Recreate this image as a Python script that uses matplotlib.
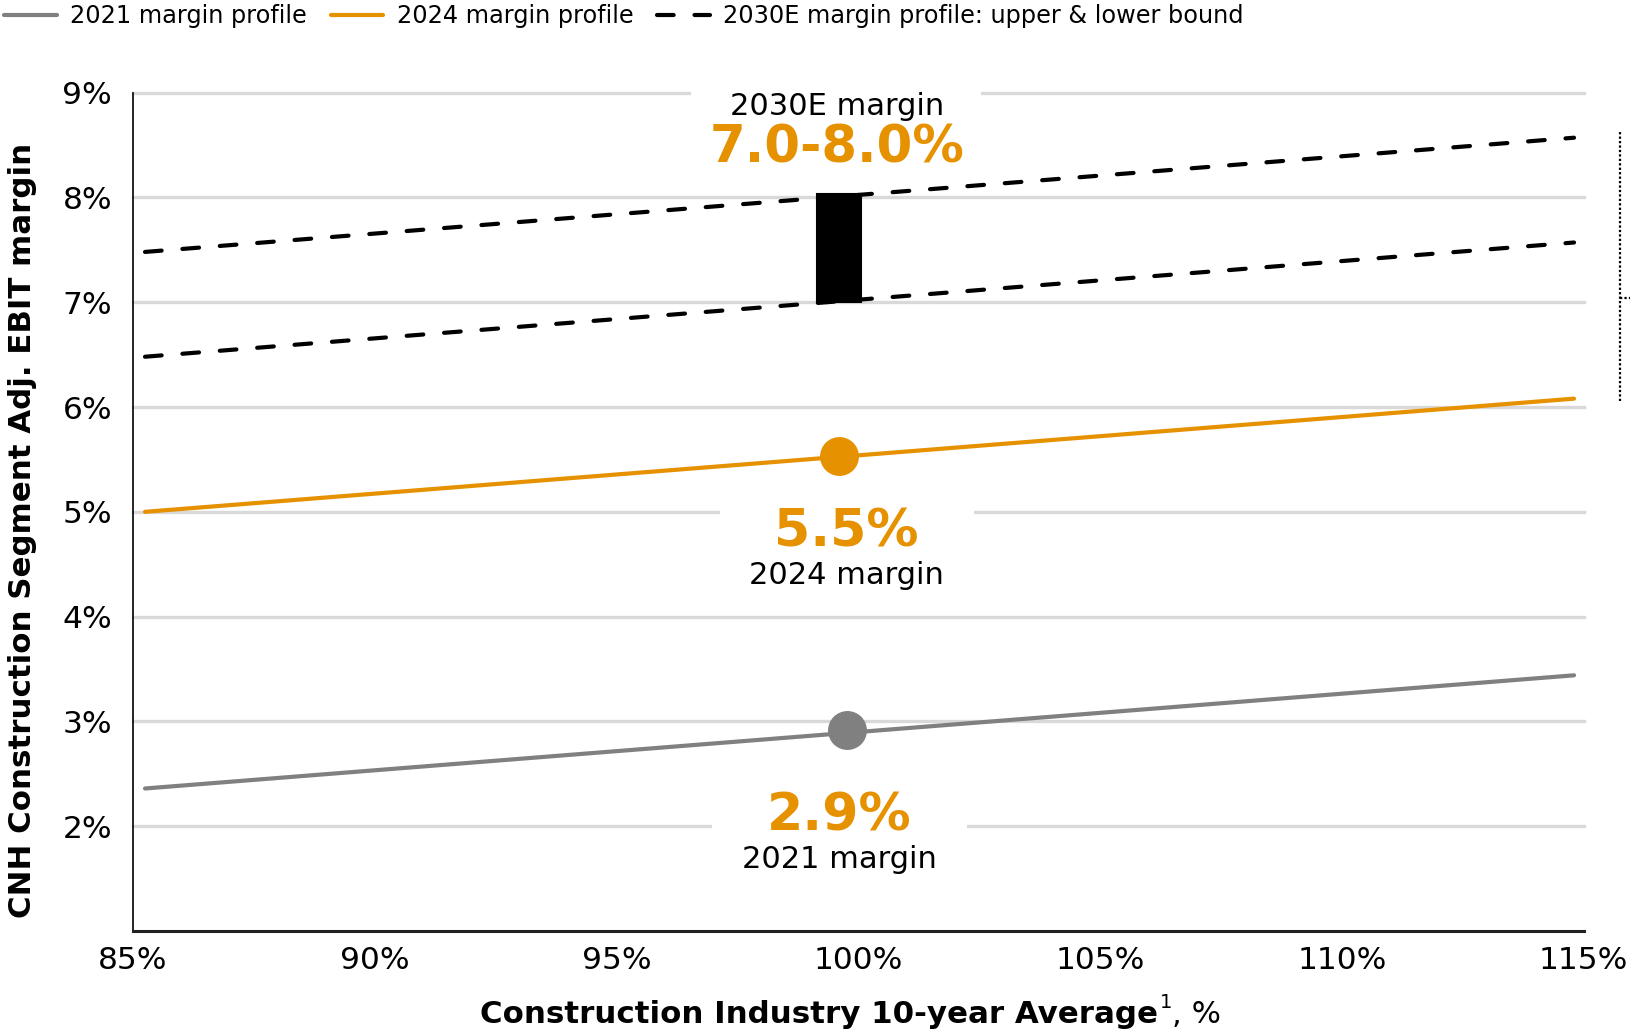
import matplotlib
matplotlib.use('Agg')
import matplotlib.pyplot as plt
import matplotlib.patches as patches

plt.rcParams['font.family'] = ['DejaVu Sans']

# data
x_ends = [85.25, 114.8]
margin_2021 = [2.36, 3.44]
margin_2024 = [5.0, 6.08]
upper_2030 = [7.48, 8.57]
lower_2030 = [6.48, 7.57]

point_2021 = (99.77, 2.92)
point_2024 = (99.6, 5.53)
range_2030 = (99.6, 7.0, 8.03)  # x, low, high

x_ticks = [85, 90, 95, 100, 105, 110, 115]
y_ticks = [2, 3, 4, 5, 6, 7, 8, 9]

ORANGE = '#E69100'
GRAY = '#808080'
GRID = '#D9D9D9'

fig = plt.figure(figsize=(16.31, 10.34), dpi=100)
ax = fig.add_axes([0.0815, 0.0996, 0.8895, 0.8108])

ax.set_xlim(85, 115)
ax.set_ylim(1, 9)
ax.set_xticks(x_ticks)
ax.set_xticklabels([f'{v}%' for v in x_ticks])
ax.set_yticks(y_ticks)
ax.set_yticklabels([f'{v}%' for v in y_ticks])
ax.tick_params(axis='both', length=0, labelsize=22.5)
ax.tick_params(axis='y', pad=15)
ax.tick_params(axis='x', pad=11)

ax.set_axisbelow(True)
ax.grid(axis='y', color=GRID, linewidth=2.4)
for gl in ax.get_ygridlines():
    gl.set_clip_on(False)

for side in ['top', 'right']:
    ax.spines[side].set_visible(False)
ax.spines['left'].set_linewidth(1.2)
ax.spines['bottom'].set_linewidth(2.2)
ax.spines['bottom'].set_color('#222222')

# white boxes behind the labels (break the gridlines)
for (x0, x1, y0, y1) in [(96.55, 102.53, 8.3, 9.1), (97.13, 102.4, 4.3, 5.15),
                         (96.98, 102.25, 1.5, 2.3)]:
    ax.add_patch(patches.Rectangle((x0, y0), x1 - x0, y1 - y0, facecolor='white',
                                   edgecolor='none', zorder=1, clip_on=False))

# lines
ax.plot(x_ends, margin_2021, color=GRAY, lw=3, solid_capstyle='round', zorder=3,
        label='2021 margin profile')
ax.plot(x_ends, margin_2024, color=ORANGE, lw=3, solid_capstyle='round', zorder=3,
        label='2024 margin profile')
ax.plot(x_ends, upper_2030, color='black', lw=3, dashes=(4, 5), dash_capstyle='round',
        zorder=3, label='2030E margin profile: upper & lower bound')
ax.plot(x_ends, lower_2030, color='black', lw=3, dashes=(4, 5), dash_capstyle='round',
        zorder=3)

# markers
ax.plot([point_2021[0]], [point_2021[1]], 'o', color=GRAY, ms=27, zorder=4)
ax.plot([point_2024[0]], [point_2024[1]], 'o', color=ORANGE, ms=27, zorder=4)
ax.bar(range_2030[0], range_2030[2] - range_2030[1], bottom=range_2030[1], width=0.9,
       color='black', edgecolor='black', linewidth=1.5, zorder=4)

# labels
ax.text(99.56, 8.87, '2030E margin', fontsize=22, ha='center', va='center', zorder=5)
ax.text(99.56, 8.47, '7.0-8.0%', fontsize=37, fontweight='bold', color=ORANGE,
        ha='center', va='center', zorder=5)
ax.text(99.75, 4.80, '5.5%', fontsize=37.5, fontweight='bold', color=ORANGE,
        ha='center', va='center', zorder=5)
ax.text(99.75, 4.39, '2024 margin', fontsize=22, ha='center', va='center', zorder=5)
ax.text(99.6, 2.09, '2.9%', fontsize=37.5, fontweight='bold', color=ORANGE,
        ha='center', va='center', zorder=5)
ax.text(99.6, 1.68, '2021 margin', fontsize=22, ha='center', va='center', zorder=5)

# dotted bracket on the right edge
ax.plot([115.75, 115.75], [6.06, 8.62], color='black', lw=1.6, linestyle=(0, (1, 1)),
        clip_on=False)
ax.plot([115.75, 115.95], [7.04, 7.04], color='black', lw=1.6, linestyle=(0, (1, 1)),
        clip_on=False)

# axis labels
xl = fig.text(0.2943, 0.0184, 'Construction Industry 10-year Average', fontsize=22.2,
              fontweight='bold', ha='left', va='center')
sup = ax.annotate('1', xy=(1, 0.6), xycoords=xl, fontsize=14, ha='left', va='bottom',
                  xytext=(1, 0), textcoords='offset points', annotation_clip=False)
ax.annotate(', %', xy=(1, 0), xycoords=(sup, xl), fontsize=22.2, ha='left', va='bottom',
            annotation_clip=False)
fig.text(0.0135, 0.4874, 'CNH Construction Segment Adj. EBIT margin', fontsize=22.2,
         fontweight='bold', rotation=90, ha='center', va='center')

# legend
fig.legend(loc='upper left', bbox_to_anchor=(-0.011, 1.017), ncol=3, frameon=False,
           fontsize=17.3, handlelength=2.2, handletextpad=0.55, columnspacing=1.0)

fig.savefig('out.png', dpi=100)
